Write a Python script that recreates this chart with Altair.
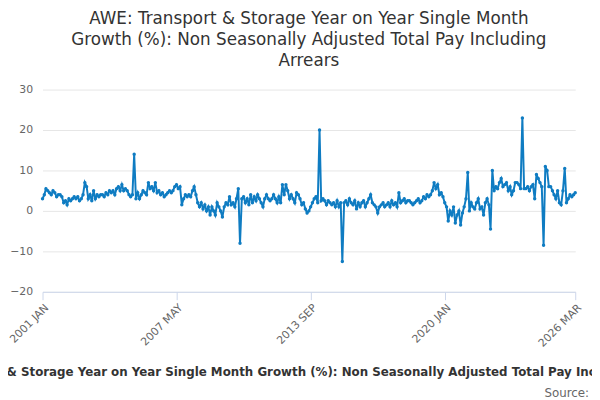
import altair as alt
import pandas as pd

vals = [
3,4,5.5,5,4.5,4,5,4.5,3.5,4,4,3.5,
2,2.5,1.5,3,2.5,3,3.5,3,3.5,2.5,3,4,
7,6,3,4,2.5,5,3,4,3.5,4,4,3.5,
4.5,4,5,4.5,5,4,5.5,6,5,6.5,5,5.5,
5,4,3.5,4,14,3,4.5,3,4,5,4.5,4,
7,5.5,6,5,7,4.5,5,4,4.5,3.5,4,4.5,
5,4.5,5,6,6.5,5.5,6,1.5,3,4,3.5,4,
3.5,5,6,4,2,1,2,0.5,1.5,0,1,-1,
1,0,-1,2,1,0,-1.5,1,2,1.5,3.5,1.5,
2,1,3,5.5,-8,3,3.5,2,3,1.5,4,2,
3.5,2.5,4,3,2,1,3,4,3,2.5,3,4,
3,2,3.5,2,6.5,4,6.5,5,3,4,3,2,
4.5,4,3,1.5,2,0.5,-0.5,0,1,2,3,3.5,
2,20,2.5,3,2.5,1.5,2.5,2,1.5,2,1,2.5,
1,2,-12.5,2,2.5,1.5,3,2,1.5,2.5,0.5,2,
1,2,2.5,1,2,3,4,2,1.5,1,-0.5,1,
1.5,2,1,1.5,2,1,2.5,1.5,2,1,4.5,2,
2.5,3,2,2.5,2.5,2,1.5,2,2.5,3,2,2.5,
3.5,3,4,3.5,4,5,7,5.5,6.5,4,4.5,3.5,
2,1,-2.5,0,-1,1,-3,-1,0,-3.5,-0.5,1,
3,9.5,0,2,1,0.5,2,3,0.5,1,-1,2,
3,1.5,-4.5,10,5,6,5.5,7,8,6,6.5,7,
5,6,4,5,7,7,6.5,5.5,23,5.5,5.5,6,
5,6,6.5,3,9,8,7,6,-8.5,11,10,6,
6,5,4,3,5,2,1.5,5,10.5,2,3,4,
3.5,4,4.5]
dates = pd.date_range("2001-01-01", periods=len(vals), freq="MS")
df = pd.DataFrame({"date": dates, "value": vals})
tick_dates = ["2001-01-01", "2007-05-01", "2013-09-01", "2020-01-01", "2026-03-01"]
W, H = 540, 205
long_title = "AWE: Transport & Storage Year on Year Single Month Growth (%): Non Seasonally Adjusted Total Pay Including Arrears"

base = alt.Chart(df)
line = base.mark_line(color="#0f7cc2", strokeWidth=2, point=alt.OverlayMarkDef(color="#0f7cc2", size=12)).encode(
    x=alt.X("date:T", scale=alt.Scale(domain=["2001-01-01", "2026-03-01"]),
            axis=alt.Axis(values=[pd.Timestamp(d).isoformat() for d in tick_dates],
                          labelExpr="upper(timeFormat(datum.value, '%Y %b'))",
                          labelAngle=-45, labelAlign="right", labelBaseline="top",
                          grid=False, domainColor="#ccd6eb", tickColor="#ccd6eb", tickSize=8,
                          labelColor="#666666", labelFontSize=11, title=long_title,
                          titleFontSize=12, titleFontWeight="bold", titleColor="#333333",
                          titlePadding=18, titleLimit=2000, titleX=W / 2 - 14)),
    y=alt.Y("value:Q", scale=alt.Scale(domain=[-20, 30]),
            axis=alt.Axis(values=[-20,-10,0,10,20,30], domain=False, ticks=False,
                          gridColor="#e6e6e6", labelColor="#666666", labelFontSize=11,
                          title=None, labelPadding=10)),
)
src = alt.Chart(pd.DataFrame({"t": ["Source:"]})).mark_text(
    align="right", fontSize=12, color="#666666", font="DejaVu Sans"
).encode(text="t:N", x=alt.value(W + 14), y=alt.value(H + 103))

chart = alt.layer(line, src).properties(
    width=W, height=H,
    title=alt.TitleParams(["AWE: Transport & Storage Year on Year Single Month",
                           "Growth (%): Non Seasonally Adjusted Total Pay Including",
                           "Arrears"], fontSize=17, fontWeight="normal", color="#333333",
                          anchor="middle", offset=14, lineHeight=21),
    autosize=alt.AutoSizeParams(type="none"),
    padding={"left": 35, "top": 80, "right": 17, "bottom": 107},
).configure(font="DejaVu Sans").configure_view(stroke=None)
chart.save("out.html", embed_options={"renderer": "svg", "actions": False})
